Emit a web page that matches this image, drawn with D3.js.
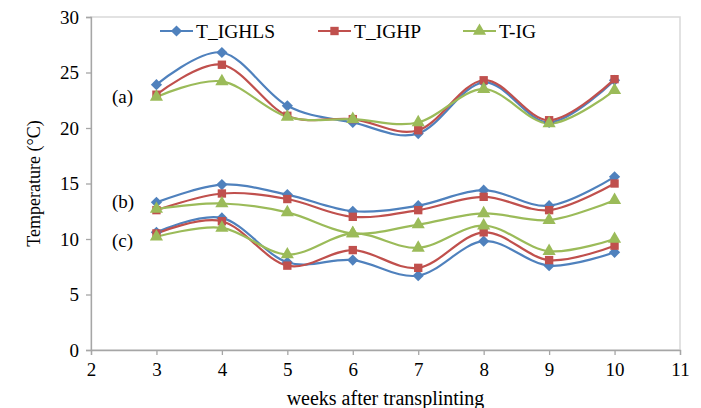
<!DOCTYPE html>
<html>
<head>
<meta charset="utf-8">
<script src="https://cdn.jsdelivr.net/npm/d3@7"></script>
<style>
  body { margin: 0; background: #fff; }
  svg text { font-family: "Liberation Serif", "Times New Roman", serif; fill: #000; }
</style>
</head>
<body>
<div class="chart"></div>
<script>
// data
const weeks = [3, 4, 5, 6, 7, 8, 9, 10];
const seriesNames = ["T_IGHLS", "T_IGHP", "T-IG"];

// group (a)
const a_IGHLS = [23.9, 26.8, 22.0, 20.5, 19.5, 24.1, 20.5, 24.3];
const a_IGHP = [23.0, 25.7, 21.1, 20.8, 19.8, 24.3, 20.7, 24.4];
const a_IG = [22.8, 24.2, 21.0, 20.8, 20.5, 23.5, 20.4, 23.4];
// group (b)
const b_IGHLS = [13.3, 14.9, 14.0, 12.5, 13.0, 14.4, 13.0, 15.6];
const b_IGHP = [12.6, 14.1, 13.6, 12.0, 12.6, 13.8, 12.6, 15.0];
const b_IG = [12.7, 13.2, 12.4, 10.5, 11.3, 12.3, 11.7, 13.5];
// group (c)
const c_IGHLS = [10.6, 11.9, 7.9, 8.1, 6.7, 9.8, 7.6, 8.8];
const c_IGHP = [10.5, 11.6, 7.6, 9.0, 7.4, 10.6, 8.1, 9.4];
const c_IG = [10.2, 11.0, 8.6, 10.5, 9.2, 11.2, 8.9, 10.0];

const groupLabels = [{ t: "(a)", v: 22.8 }, { t: "(b)", v: 13.4 }, { t: "(c)", v: 9.9 }];
const xTicks = [2, 3, 4, 5, 6, 7, 8, 9, 10, 11];
const yTicks = [0, 5, 10, 15, 20, 25, 30];

const colors = ["#4F81BD", "#C0504D", "#9BBB59"];
const shapes = [d3.symbolDiamond2, d3.symbolSquare, d3.symbolTriangle];
const sizes = [80, 70, 75];

const lines = [
  { s: 0, v: a_IGHLS }, { s: 1, v: a_IGHP }, { s: 2, v: a_IG },
  { s: 0, v: b_IGHLS }, { s: 1, v: b_IGHP }, { s: 2, v: b_IG },
  { s: 0, v: c_IGHLS }, { s: 1, v: c_IGHP }, { s: 2, v: c_IG }
];

// setup chart
const width = 701;
const height = 408;
const plotLeft = 91, plotRight = 680, plotTop = 17, plotBottom = 350;
const serif = '"Liberation Serif", "Times New Roman", serif';

const svg = d3.select(".chart")
  .append("svg")
  .attr("width", width)
  .attr("height", height);

const x = d3.scaleLinear().domain([2, 11]).range([plotLeft, plotRight]);
const y = d3.scaleLinear().domain([0, 30]).range([plotBottom, plotTop]);

// plot area border
svg.append("rect")
  .attr("x", plotLeft).attr("y", plotTop)
  .attr("width", plotRight - plotLeft).attr("height", plotBottom - plotTop)
  .attr("fill", "none").attr("stroke", "#d9d9d9").attr("stroke-width", 1.5);

const xAxis = svg.append("g")
  .attr("transform", `translate(0,${plotBottom})`)
  .call(d3.axisBottom(x).tickValues(xTicks).tickSize(5).tickPadding(8).tickFormat(d3.format("d")));
const yAxis = svg.append("g")
  .attr("transform", `translate(${plotLeft},0)`)
  .call(d3.axisLeft(y).tickValues(yTicks).tickSize(5).tickPadding(7));

[xAxis, yAxis].forEach((g) => {
  g.attr("font-family", serif).attr("font-size", 19);
  g.select(".domain").attr("stroke", "#a6a6a6").attr("stroke-width", 1.3);
  g.selectAll(".tick line").attr("stroke", "#a6a6a6").attr("stroke-width", 1.3);
  g.selectAll(".tick text")
    .style("font-family", serif)
    .style("font-size", "19px")
    .attr("fill", "#000");
});
yAxis.selectAll(".tick text").attr("dy", "0.34em");

// axis titles
svg.append("text")
  .attr("transform", `translate(40,${(plotTop + plotBottom) / 2}) rotate(-90)`)
  .attr("text-anchor", "middle")
  .style("font-size", "18px")
  .text("Temperature (°C)");

svg.append("text")
  .attr("x", (plotLeft + plotRight) / 2)
  .attr("y", 405)
  .attr("text-anchor", "middle")
  .style("font-size", "20px")
  .text("weeks after transplinting");

// series
const line = d3.line()
  .x((d, i) => x(weeks[i]))
  .y((d) => y(d))
  .curve(d3.curveCardinal.tension(0));

lines.forEach((l) => {
  svg.append("path")
    .datum(l.v)
    .attr("d", line)
    .attr("fill", "none")
    .attr("stroke", colors[l.s])
    .attr("stroke-width", 2.2);
});

lines.forEach((l) => {
  svg.selectAll(null)
    .data(l.v)
    .enter()
    .append("path")
    .attr("d", d3.symbol().type(shapes[l.s]).size(sizes[l.s]))
    .attr("transform", (d, i) => `translate(${x(weeks[i])},${y(d)})`)
    .attr("fill", colors[l.s]);
});

// group labels
svg.selectAll(".glabel")
  .data(groupLabels)
  .enter()
  .append("text")
  .attr("class", "glabel")
  .attr("x", 112)
  .attr("y", (d) => y(d.v))
  .attr("dy", "0.34em")
  .style("font-size", "19px")
  .text((d) => d.t);

// legend
const legendX = [160, 318, 463];
const legend = svg.selectAll(".legend")
  .data(seriesNames)
  .enter()
  .append("g")
  .attr("class", "legend")
  .attr("transform", (d, i) => `translate(${legendX[i]},31)`);

legend.append("line")
  .attr("x1", 0).attr("x2", 33)
  .attr("stroke", (d, i) => colors[i])
  .attr("stroke-width", 2.2);
legend.append("path")
  .attr("d", (d, i) => d3.symbol().type(shapes[i]).size(sizes[i])())
  .attr("transform", "translate(16.5,0)")
  .attr("fill", (d, i) => colors[i]);
legend.append("text")
  .attr("x", 36)
  .attr("dy", "0.34em")
  .style("font-size", "19.5px")
  .text((d) => d);
</script>
</body>
</html>
